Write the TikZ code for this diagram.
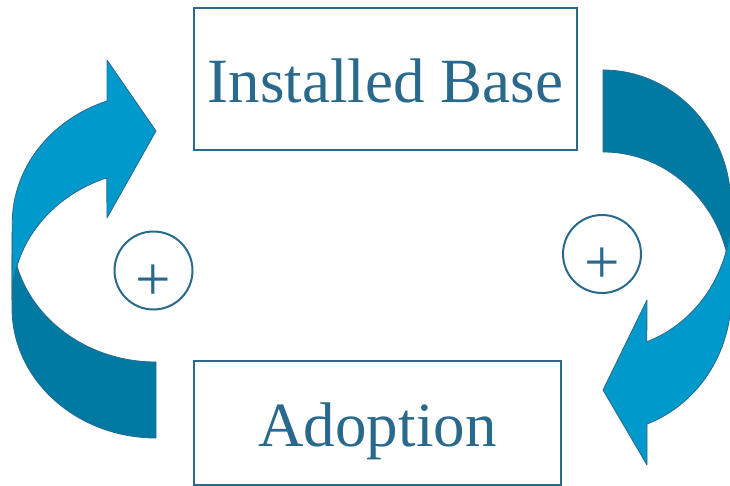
\documentclass[tikz,border=0pt]{standalone}
\usepackage{fontspec}
\setmainfont{Liberation Serif}
\usetikzlibrary{positioning}
\definecolor{loopblue}{HTML}{29698C}
\definecolor{frontblue}{HTML}{0099CC}
\definecolor{backblue}{HTML}{007AA3}

\begin{document}
\begin{tikzpicture}[x=1pt,y=-1pt,
  box/.style={draw=loopblue,line width=2pt,text=loopblue,inner sep=0pt,
    font=\fontsize{63pt}{70pt}\selectfont,text height=47pt,text depth=0pt},
  sign/.style={box,circle,minimum size=78pt,text height=59pt},
  front/.style={fill=frontblue,draw=loopblue,line width=0.8pt,line join=round},
  back/.style={fill=backblue,draw=loopblue,line width=0.8pt,line join=round}]
  \useasboundingbox (0,0) rectangle (730,486);

  %Draw the two stocks
  \node[box,minimum width=383pt,minimum height=142pt] (base) at (385.5,79) {Installed Base};
  \node[box,minimum width=367pt,minimum height=124pt] (adopt) at (377.5,423) {Adoption};

  %Draw left loop arrow (back part first)
  \draw[back] (12,308) arc[start angle=180,end angle=90,x radius=144,y radius=130]
    -- (156,362) arc[start angle=90,end angle=180,x radius=144,y radius=130] -- cycle;
  \draw[front] (107,101) arc[start angle=250,end angle=180,x radius=144,y radius=130]
    -- (12,300) arc[start angle=180,end angle=250,x radius=144,y radius=130]
    -- (107,218) -- (156,131) -- (107,60) -- cycle;

  %Draw right loop arrow (back part first)
  \draw[back] (603,70) arc[start angle=270,end angle=360,x radius=128,y radius=136]
    -- (731,288) arc[start angle=0,end angle=-90,x radius=128,y radius=136] -- cycle;
  \draw[front] (647,424) arc[start angle=70,end angle=0,x radius=128,y radius=136]
    -- (731,214) arc[start angle=0,end angle=70,x radius=128,y radius=136]
    -- (647,300) -- (603,390) -- (647,465) -- cycle;

  %Draw loop polarity signs
  \node[sign] (loopL) at (153.5,270.5) {+};
  \node[sign] (loopR) at (602,254) {+};
\end{tikzpicture}
\end{document}
